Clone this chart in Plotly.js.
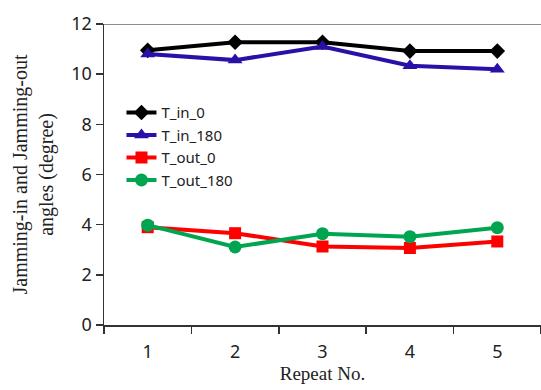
<!DOCTYPE html>
<html><head><meta charset="utf-8">
<script src="https://cdn.plot.ly/plotly-3.0.1.min.js"></script>
<style>html,body{margin:0;padding:0;background:#fff}#chart{width:541px;height:390px}</style>
</head><body><div id="chart"></div>
<script>
const repeats = ["1","2","3","4","5"];
const tIn0 = [10.95, 11.27, 11.27, 10.92, 10.92];
const tIn180 = [10.8, 10.56, 11.1, 10.34, 10.2];
const tOut0 = [3.9, 3.66, 3.13, 3.07, 3.33];
const tOut180 = [3.98, 3.11, 3.64, 3.52, 3.88];
const names = ["T_in_0","T_in_180","T_out_0","T_out_180"];

const mk = (y, name, color, symbol, size) => ({
  x: repeats, y: y, name: name, type: "scatter", mode: "lines+markers",
  line: {color: color, width: 4},
  marker: {color: color, symbol: symbol, size: size}
});
const data = [
  mk(tIn0, names[0], "#000000", "diamond", 12),
  mk(tIn180, names[1], "#2A0FA8", "triangle-up", 13),
  mk(tOut0, names[2], "#FF0000", "square", 12),
  mk(tOut180, names[3], "#00A64F", "circle", 13)
];
const layout = {
  width: 541, height: 390,
  margin: {l: 104, r: 0, t: 24, b: 65},
  paper_bgcolor: "#fff", plot_bgcolor: "#fff",
  font: {family: "Noto Sans, sans-serif", color: "#222"},
  showlegend: true,
  legend: {x: 0.04, y: 0.76, xanchor: "left", yanchor: "top",
    font: {size: 15, family: "Noto Sans, sans-serif", color: "#222"},
    bgcolor: "rgba(0,0,0,0)", tracegroupgap: 0},
  xaxis: {type: "category", range: [-0.5, 4.5], tickson: "boundaries",
    showgrid: false, zeroline: false, showline: true, linecolor: "#333", linewidth: 1.5,
    ticks: "outside", ticklen: 7, tickcolor: "#333", tickwidth: 1.5, ticklabelstandoff: 10,
    tickfont: {size: 18, family: "Noto Sans, sans-serif", color: "#222"},
    title: {text: "Repeat No.", font: {size: 19, family: "Liberation Serif, serif", color: "#222"}, standoff: 4}},
  yaxis: {range: [0, 12], dtick: 2, showgrid: false, zeroline: false,
    showline: true, linecolor: "#333", linewidth: 1.5,
    ticks: "outside", ticklen: 7, tickcolor: "#333", tickwidth: 1.5,
    tickfont: {size: 18, family: "Noto Sans, sans-serif", color: "#222"},
    title: {text: "Jamming-in and Jamming-out<br>angles (degree)", font: {size: 20, family: "Liberation Serif, serif", color: "#222"}, standoff: 12}},
  shapes: [{type: "line", xref: "paper", yref: "y", x0: 0, x1: 1, y0: 12, y1: 12,
    line: {color: "#666", width: 1.5}}]
};
Plotly.newPlot("chart", data, layout, {displayModeBar: false, staticPlot: true});
</script></body></html>
